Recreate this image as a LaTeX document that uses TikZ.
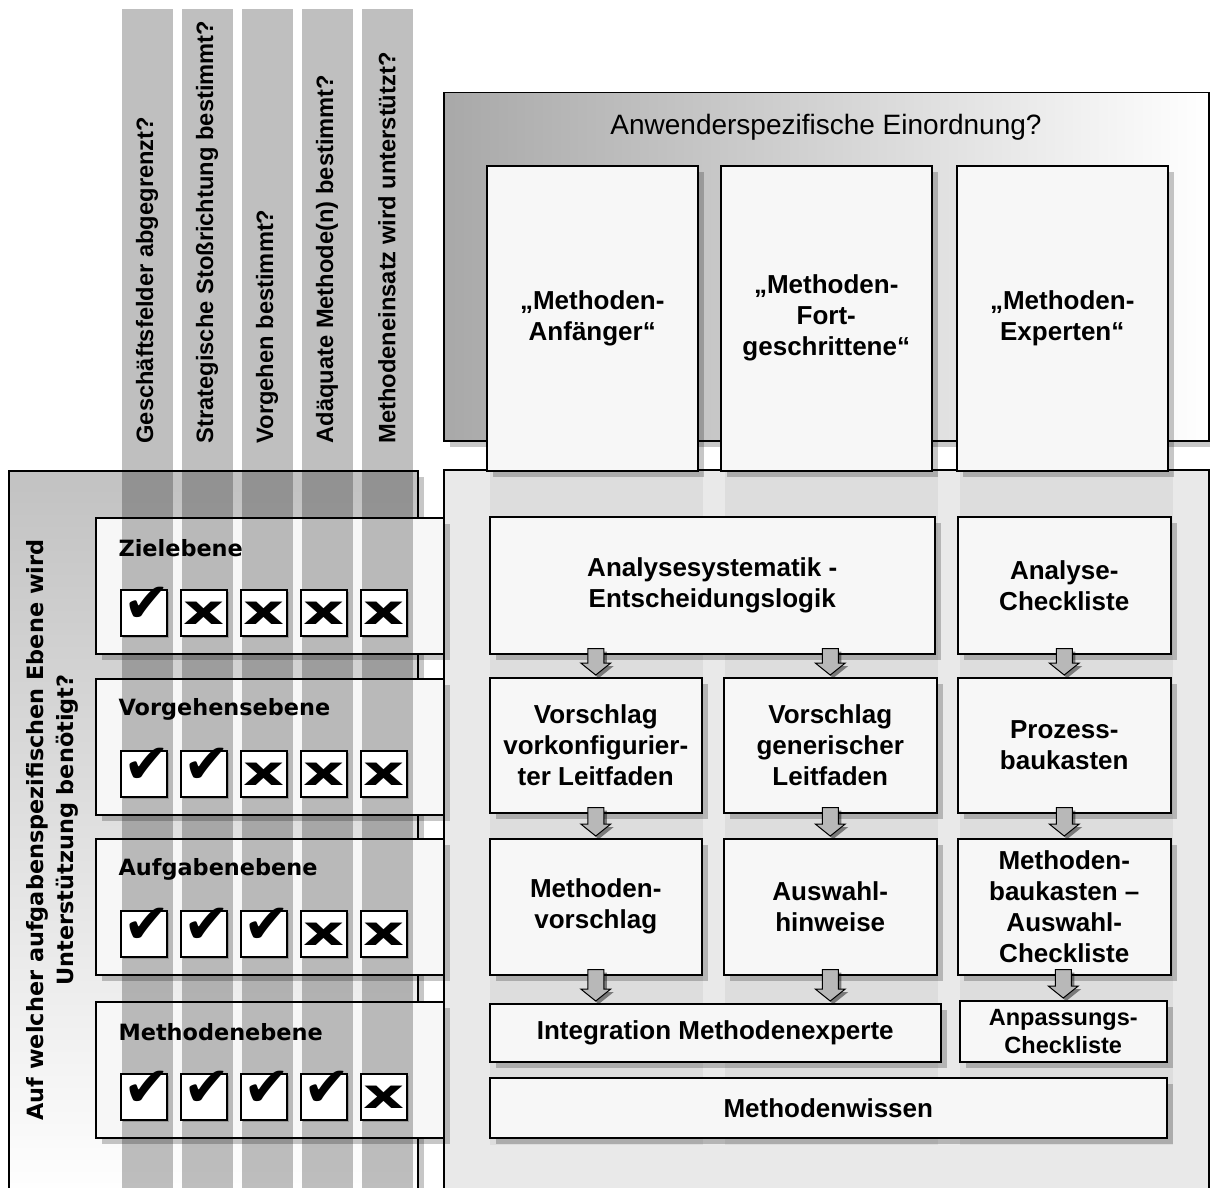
\documentclass[tikz,border=0pt]{standalone}
\usepackage{fontspec}
\setmainfont{Liberation Sans}
\newfontfamily\ebenefont{DejaVu Sans}
\usetikzlibrary{shadows,calc}

\definecolor{rahmengrau}{gray}{0.66}
\definecolor{linksgrau}{gray}{0.76}
\definecolor{feldgrau}{gray}{0.915}
\definecolor{spaltengrau}{gray}{0.865}
\definecolor{kastenweiss}{gray}{0.97}
\definecolor{pfeilgrau}{gray}{0.72}

\tikzset{
  schatten/.style={drop shadow={shadow xshift=6pt, shadow yshift=-6pt, fill=black, opacity=.22}},
  kasten/.style={draw, line width=1.5pt, fill=kastenweiss, schatten, anchor=north west,
    align=center, inner sep=2pt, font=\fontsize{26}{31}\selectfont\bfseries},
  ebene/.style={draw, line width=1.5pt, fill=kastenweiss, schatten, anchor=north west,
    minimum width=348pt, minimum height=136pt},
  frage/.style={rotate=90, anchor=west, font=\fontsize{23.7}{28}\selectfont\bfseries},
  balken/.style={fill=black, opacity=.25},
  ankreuz/.style={draw, line width=1.3pt, fill=white, minimum size=46pt, inner sep=0pt,
    drop shadow={shadow xshift=2pt, shadow yshift=-2pt, fill=black, opacity=.2}},
  pfeil/.style={draw, line width=1pt, fill=pfeilgrau,
    drop shadow={shadow xshift=3pt, shadow yshift=-3pt, fill=black, opacity=.45}},
}

\newcommand\haken{\makebox[0pt]{\raisebox{-9pt}[0pt][0pt]{\hspace{6pt}\ebenefont\fontsize{56}{56}\selectfont ✔}}}
\newcommand\kreuz{\makebox[0pt]{\raisebox{-11.5pt}[0pt][0pt]{\scalebox{1.55}[1]{\ebenefont\bfseries\fontsize{41}{41}\selectfont x}}}}
% Blockpfeil von Kasten #1 nach Kasten #2
\newcommand\pfeil[2]{\draw[pfeil] ($(#1.south -| #2.north)+(-8,-6)$) -- ($(#2.north)+(-8,-14)$)
  -- ++(-7,0) -- ($(#2.north)+(0,-2)$) -- ++(15,-12) -- ++(-7,0)
  -- ($(#1.south -| #2.north)+(8,-6)$) -- cycle;}

\begin{document}
\begin{tikzpicture}[x=1pt,y=-1pt]
  \useasboundingbox (0,0) rectangle (1210,1188);
  \clip (0,0) rectangle (1210,1188);
  \fill[white] (0,0) rectangle (1210,1188);

  % Anwendertypen
  \node[draw, line width=1.5pt, left color=rahmengrau, right color=white, schatten,
    anchor=north west, minimum width=765pt, minimum height=348pt, inner sep=0pt] (anwender) at (443,92) {};
  \node[font=\fontsize{28}{32}\selectfont] (anwtitel) at (826,127) {Anwenderspezifische Einordnung?};

  \node[draw, line width=1.5pt, fill=feldgrau, anchor=north west,
    minimum width=765pt, minimum height=760pt] (unten) at (443,469) {};
  \foreach \x in {490,725,960}
    \fill[spaltengrau] (\x,471) rectangle ++(213,674);

  \node[kasten, minimum width=211pt, minimum height=305pt] (anfaenger) at (486,165) {„Methoden-\\Anfänger“};
  \node[kasten, minimum width=211pt, minimum height=305pt] (fortgeschr) at (720,165) {„Methoden-\\Fort-\\geschrittene“};
  \node[kasten, minimum width=211pt, minimum height=305pt] (experten) at (956,165) {„Methoden-\\Experten“};

  % Ebenen
  \node[draw, line width=1.5pt, top color=linksgrau, bottom color=white, schatten,
    anchor=north west, minimum width=409pt, minimum height=730pt] (fragen) at (8,470) {};
  \foreach \n/\y in {ziel/517, vorg/678, aufg/838, meth/1001}
    \node[ebene] (\n) at (95,\y) {};

  \foreach \x in {147,207,267,327,387}
    \fill[balken] (\x-25.5,9) rectangle (\x+25.5,1200);

  \foreach \x/\t [count=\i] in {147/Geschäftsfelder abgegrenzt?, 207/Strategische Stoßrichtung bestimmt?,
      267/Vorgehen bestimmt?, 327/Adäquate Methode(n) bestimmt?, 387/Methodeneinsatz wird unterstützt?}
    \node[frage] (frage\i) at (\x,447) {\t};

  \foreach \n/\t [count=\r] in {ziel/Zielebene, vorg/Vorgehensebene, aufg/Aufgabenebene, meth/Methodenebene} {
    \node[anchor=west, font=\ebenefont\bfseries\fontsize{22.4}{27}\selectfont] (\n-titel)
      at ($(\n.north west)+(20,31)$) {\t};
    \foreach \c in {1,...,5}
      \node[ankreuz] (\n-\c) at ($(\n.north west)+(60*\c-11,96)$) {\ifnum\c>\r\kreuz\else\haken\fi};
  }

  \node[rotate=90, align=center, font=\ebenefont\bfseries\fontsize{22.4}{30}\selectfont] (ebenenfrage)
    at (52,830) {Auf welcher aufgabenspezifischen Ebene wird\\Unterstützung benötigt?};

  % Unterstuetzungsangebot
  \node[kasten, minimum width=445pt, minimum height=137pt] (analyse) at (489,516) {Analysesystematik -\\Entscheidungslogik};
  \node[kasten, minimum width=213pt, minimum height=137pt] (anacheck) at (957,516) {Analyse-\\Checkliste};
  \node[kasten, minimum width=212pt, minimum height=135pt] (vorkonf) at (489,677) {Vorschlag\\vorkonfigurier-\\ter Leitfaden};
  \node[kasten, minimum width=213pt, minimum height=135pt] (generisch) at (723,677) {Vorschlag\\generischer\\Leitfaden};
  \node[kasten, minimum width=213pt, minimum height=135pt] (prozess) at (957,677) {Prozess-\\baukasten};
  \node[kasten, minimum width=212pt, minimum height=136pt] (mvorschlag) at (489,838) {Methoden-\\vorschlag};
  \node[kasten, minimum width=213pt, minimum height=136pt] (auswahl) at (723,838) {Auswahl-\\hinweise};
  \node[kasten, minimum width=213pt, minimum height=136pt] (baukasten) at (957,838) {Methoden-\\baukasten –\\Auswahl-\\Checkliste};
  \node[kasten, minimum width=451pt, minimum height=58pt] (integration) at (489,1003) {Integration Methodenexperte};
  \node[kasten, minimum width=207pt, minimum height=61pt, font=\fontsize{23.5}{28}\selectfont\bfseries] (anpassung) at (959,1000) {Anpassungs-\\Checkliste};
  \node[kasten, minimum width=677pt, minimum height=60pt] (wissen) at (489,1077) {Methodenwissen};

  \pfeil{analyse}{vorkonf}
  \pfeil{analyse}{generisch}
  \pfeil{anacheck}{prozess}
  \pfeil{vorkonf}{mvorschlag}
  \pfeil{generisch}{auswahl}
  \pfeil{prozess}{baukasten}
  \pfeil{mvorschlag}{integration.north -| mvorschlag}
  \pfeil{auswahl}{integration.north -| auswahl}
  \pfeil{baukasten}{anpassung}
\end{tikzpicture}
\end{document}
